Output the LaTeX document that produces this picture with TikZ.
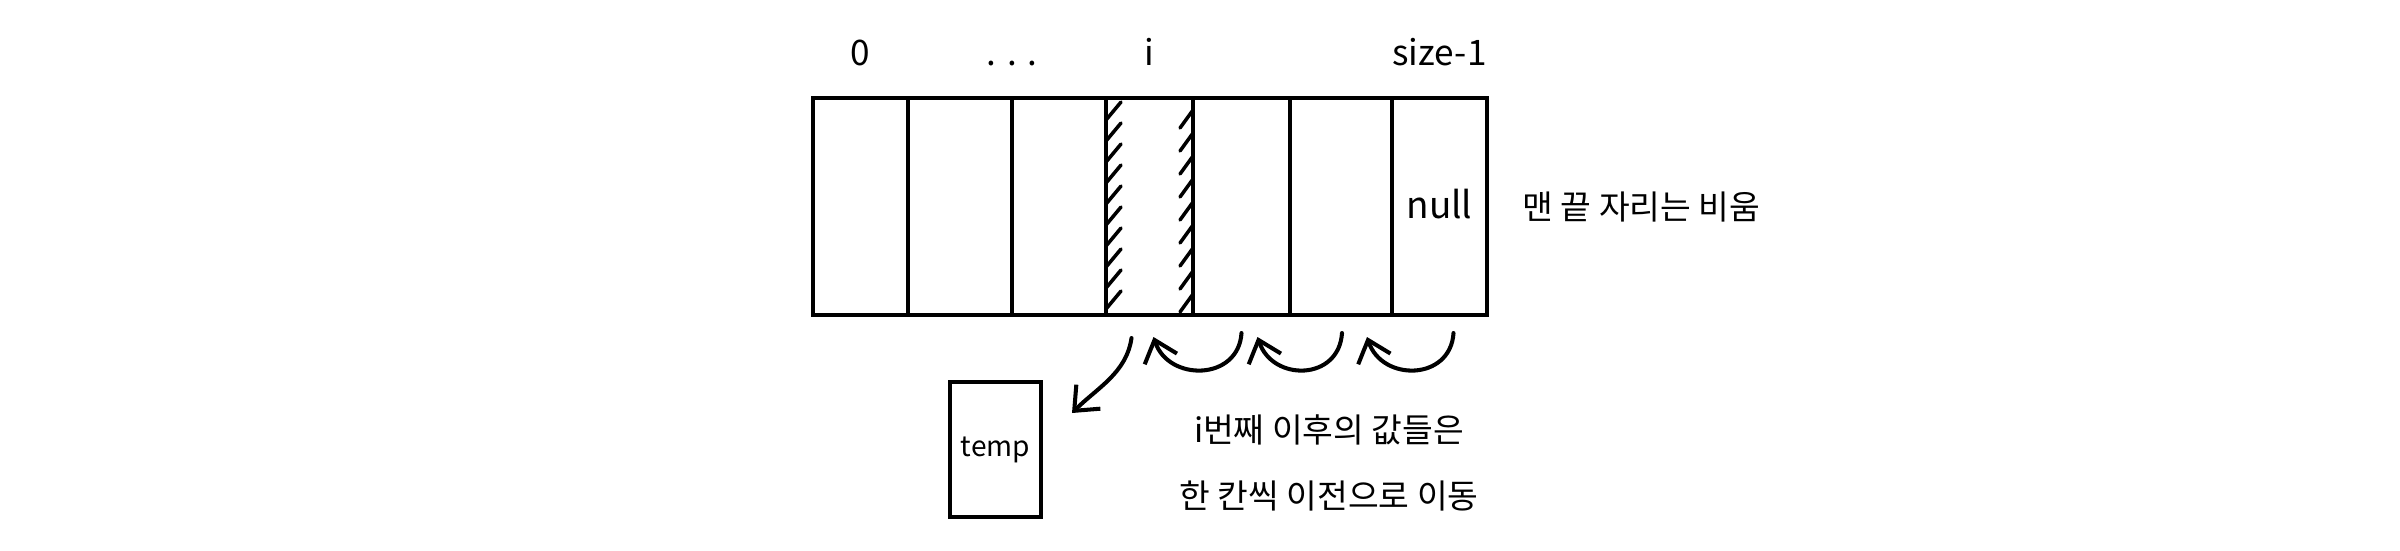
\documentclass[tikz,border=0pt]{standalone}
\usepackage{fontspec}
\setmainfont{Noto Sans CJK KR}
\usetikzlibrary{calc,arrows.meta,positioning}
\tikzset{
    cell/.style = {draw, rectangle, line width=1.3pt,
        minimum height=21.7mm, inner sep=0, outer sep=0},
    index/.style = {anchor=base, inner sep=0, font=\fontsize{10}{12}\selectfont},
    note/.style = {inner sep=0, align=center, font=\fontsize{9.5}{19}\selectfont},
    hatch/.style = {line width=1pt, line cap=round},
    arrow/.style = {draw, line width=1.15pt, line cap=round,
        -{Straight Barb[length=2mm,width=3.4mm]}}
}

\begin{document}
\begin{tikzpicture}[x=0.1mm, y=-0.1mm]
\useasboundingbox (0,0) rectangle (2400,550);
% array cells
\foreach \xa/\xb/\n in {813/908/0, 908/1012/1, 1012/1106/2, 1106/1193/3, 1193/1290/4, 1290/1392/5, 1392/1487/6}
    \node[cell, minimum width={(\xb-\xa)*0.1mm}] (c\n) at ({(\xa+\xb)/2},206.5) {};
\node[index, anchor=center, font=\fontsize{10.5}{12}\selectfont] (null) at ($(c6)+(0,-2)$) {null};

% indices
\coordinate (top) at (0,65);
\node[index] (i0) at (c0 |- top) {0};
\node[index] (idots) at (c1.north east |- top) {. . .};
\node[index] (ii) at (c3 |- top) {i};
\node[index] (isize) at (c6 |- top) {size-1};

% removed slot i
\foreach \k in {0,...,9}
    \draw[hatch] ($(c3.north west)+(0,22+21*\k)$) -- ++(15,-18);
\foreach \k in {0,...,8}
    \draw[hatch] ($(c3.north east)+(-13,30+23*\k)$) -- ++(13,-18);

\node[cell, minimum width=9.1mm, minimum height=13.5mm, font=\fontsize{8}{10}\selectfont] (temp) at (995.5,449.5) {temp};

\coordinate (out) at ($(c3.south)+(-18,23)$);
\coordinate (in) at ($(temp.north east)+(31,31)$);
\draw[arrow] (out) .. controls +(-5,35) and +(25,-25) .. (in);

% shift left by one
\foreach \a/\b/\da/\db in {4/3/0/4, 5/4/1/16, 6/5/14/26}
    \draw[arrow] ($(c\a.south)+(\da,18)$) .. controls +(-3,48) and +(15,45) .. ($(c\b.south)+(\db,22)$);

\node[note, right=3.5mm of c6] (empty) {맨 끝 자리는 비움};
\node[note] (shift) at (1329,463) {i번째 이후의 값들은\\한 칸씩 이전으로 이동};
\end{tikzpicture}
\end{document}
